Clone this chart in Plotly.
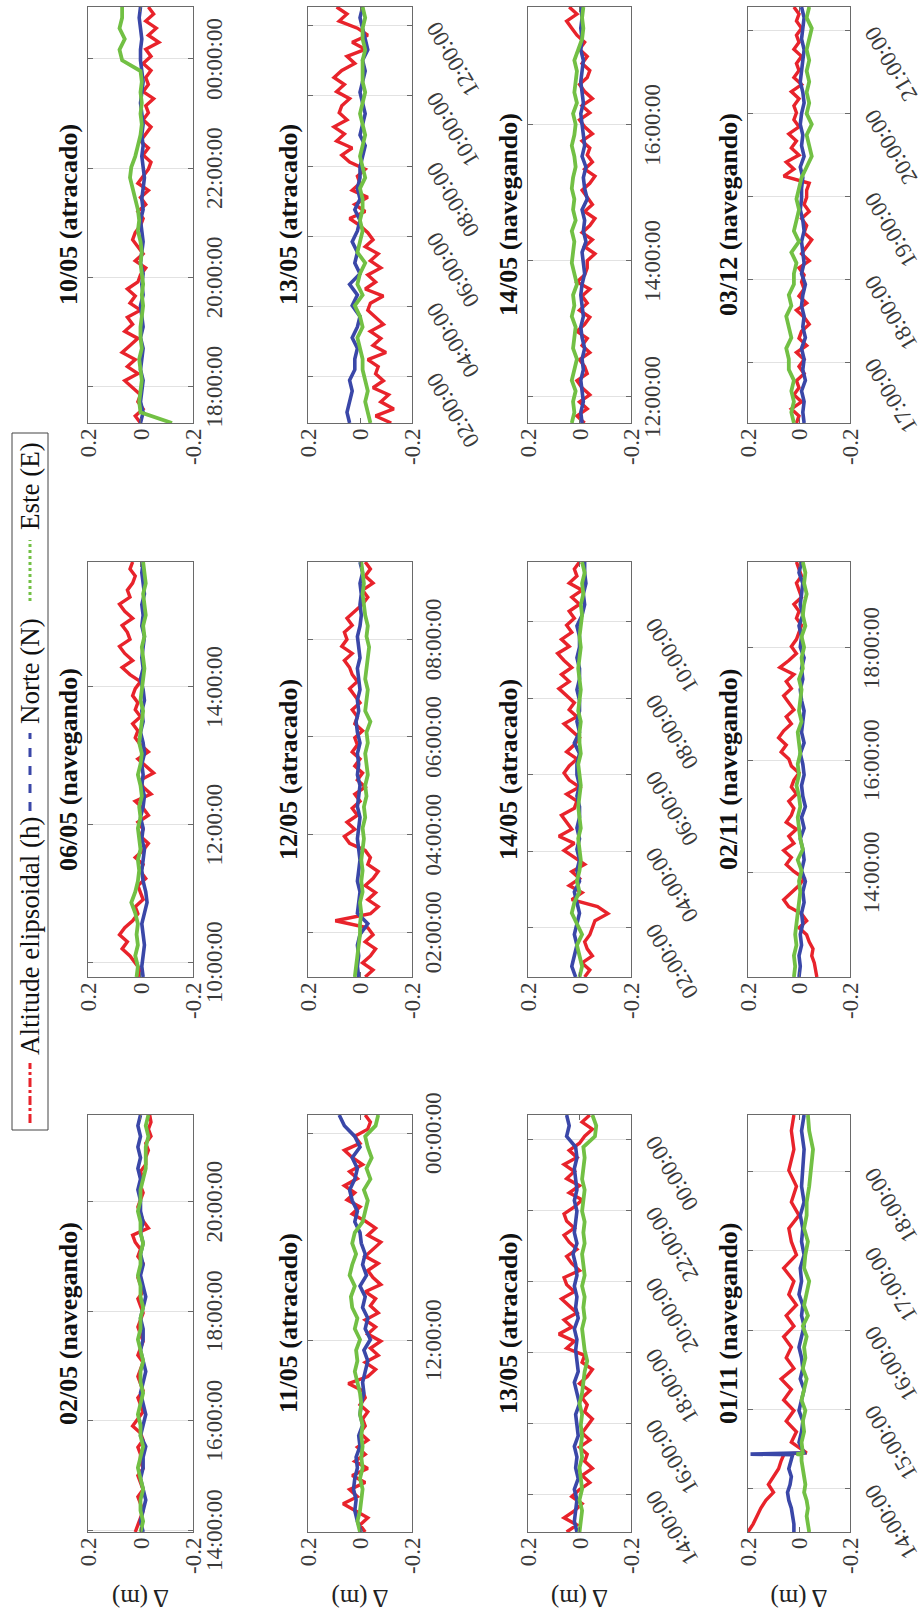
import pandas as pd
import plotly.graph_objects as go

# ---------------- data (values in metres) ----------------
titles = ["02/05 (navegando)", "06/05 (navegando)", "10/05 (atracado)",
          "11/05 (atracado)", "12/05 (atracado)", "13/05 (atracado)",
          "13/05 (atracado)", "14/05 (atracado)", "14/05 (navegando)",
          "01/11 (navegando)", "02/11 (navegando)", "03/12 (navegando)"]

starts = ["2016-05-02 13:58", "2016-05-06 09:47", "2016-05-10 17:20",
          "2016-05-11 00:52", "2016-05-12 01:05", "2016-05-13 00:41",
          "2016-05-13 12:56", "2016-05-14 00:43", "2016-05-14 11:37",
          "2016-11-01 13:27", "2016-11-02 12:08", "2016-12-03 16:16"]
ends = ["2016-05-02 21:35", "2016-05-06 15:49", "2016-05-11 00:57",
        "2016-05-12 01:03", "2016-05-12 09:35", "2016-05-13 12:32",
        "2016-05-14 00:42", "2016-05-14 11:34", "2016-05-14 17:44",
        "2016-11-01 18:43", "2016-11-02 19:32", "2016-12-03 21:17"]

tick_times = [
    ["2016-05-02 14:00", "2016-05-02 16:00", "2016-05-02 18:00", "2016-05-02 20:00"],
    ["2016-05-06 10:00", "2016-05-06 12:00", "2016-05-06 14:00"],
    ["2016-05-10 18:00", "2016-05-10 20:00", "2016-05-10 22:00", "2016-05-11 00:00"],
    ["2016-05-11 12:00", "2016-05-12 00:00"],
    ["2016-05-12 02:00", "2016-05-12 04:00", "2016-05-12 06:00", "2016-05-12 08:00"],
    ["2016-05-13 02:00", "2016-05-13 04:00", "2016-05-13 06:00", "2016-05-13 08:00",
     "2016-05-13 10:00", "2016-05-13 12:00"],
    ["2016-05-13 14:00", "2016-05-13 16:00", "2016-05-13 18:00", "2016-05-13 20:00",
     "2016-05-13 22:00", "2016-05-14 00:00"],
    ["2016-05-14 02:00", "2016-05-14 04:00", "2016-05-14 06:00", "2016-05-14 08:00",
     "2016-05-14 10:00"],
    ["2016-05-14 12:00", "2016-05-14 14:00", "2016-05-14 16:00"],
    ["2016-11-01 14:00", "2016-11-01 15:00", "2016-11-01 16:00", "2016-11-01 17:00",
     "2016-11-01 18:00"],
    ["2016-11-02 14:00", "2016-11-02 16:00", "2016-11-02 18:00"],
    ["2016-12-03 17:00", "2016-12-03 18:00", "2016-12-03 19:00", "2016-12-03 20:00",
     "2016-12-03 21:00"],
]
slanted = [False, False, False, False, False, True, True, True, False, True, False, True]

value_ticks = [0.2, 0, -0.2]
value_tick_text = ["0.2", "0", "-0.2"]

# 02/05
h_0205 = [.02,.01,.0,-.01,.0,.01,-.01,.0,.01,-.01,.0,.0,.01,-.01,.0,.03,.01,-.01,.0,.01,-.01,.0,.01,.0,-.01,.01,.0,-.01,.0,.01,.0,-.01,.0,.01,-.01,.0,.01,.0,-.01,.01,.0,.02,.03,-.03,-.01,.0,.01,.0,-.01,.0,-.01,.0,-.02,-.02,-.03,-.02,-.04,-.03,-.04,-.035]
n_0205 = [-.01,.0,-.01,-.02,-.01,.0,-.01,-.01,-.02,.0,-.01,-.02,-.01,.0,-.01,-.02,-.01,.0,-.01,-.01,.0,-.01,-.02,-.01,.0,-.01,.0,-.01,.0,-.01,.0,.0,.01,.0,.01,.0,.01,.0,.01,.0]
e_0205 = [.0,-.01,.0,.0,-.01,.0,.01,.0,-.01,.0,.0,.01,.0,-.01,.0,.0,-.01,.0,.01,.0,.0,-.01,.0,.0,.01,.0,.0,-.01,.0,.0,.01,.0,.0,-.01,-.02,-.02,-.02,-.03,-.02,-.03]
# 06/05
h_0605 = [.01,.0,.02,.04,.07,.05,.08,.06,.03,.01,.02,-.01,.0,.01,-.02,.0,-.01,.02,-.01,-.03,.0,-.01,.01,-.03,-.01,.02,-.04,-.01,.0,-.05,-.02,.01,-.03,.0,.02,.01,.03,.0,.02,.01,.03,.02,.0,.04,.07,.03,.06,.08,.04,.05,.07,.03,.06,.08,.04,.05,.03,.02,.04,.03]
n_0605 = [-.01,-.005,-.01,-.015,-.01,-.005,-.015,-.025,-.02,-.01,-.005,-.01,-.015,-.005,-.01,.0,-.01,-.015,-.005,-.01,-.005,-.015,-.01,.0,-.01,-.005,-.015,-.01,.0,-.01,-.005,-.01,-.015,-.005,-.01,-.005,-.015,-.01,-.005,-.01]
e_0605 = [.015,.01,.02,.01,.015,.01,.02,.035,.02,.01,.005,.01,.0,.005,.01,.0,.005,-.005,.0,.01,.0,-.005,.005,.0,-.005,-.01,.0,-.005,-.01,-.015,-.01,-.005,-.015,-.01,-.02,-.015,-.01,-.02,-.015,-.01]
# 10/05
h_1005 = [.0,.02,-.01,.01,.0,.03,.06,.01,.05,.02,.07,.04,.01,.06,.03,.05,.0,.04,.02,.05,.01,.0,-.02,.02,-.01,.01,.03,.02,.0,-.01,.01,-.02,.0,-.03,.01,-.01,-.03,-.04,-.01,-.03,.0,-.02,-.04,-.01,-.03,-.02,-.05,-.01,-.03,-.02,-.04,-.01,-.04,-.02,-.07,-.03,-.06,-.02,-.05,-.03]
n_1005 = [.0,-.01,.0,-.005,-.01,.0,-.005,-.01,.0,-.01,-.005,.0,-.01,-.005,-.01,.0,-.005,-.01,-.005,.0,-.01,-.005,-.01,-.015,-.01,-.005,-.01,-.005,-.01,-.005,.0,-.005,-.01,-.005,.0,.0,-.005,.0,.005,.0]
e_1005 = [-.12,.0,.005,.0,-.005,.0,.005,-.005,.0,.0,-.005,-.01,-.005,-.01,-.005,.0,-.005,.0,.01,.005,.01,.02,.03,.04,.035,.02,.01,.0,-.005,.0,-.005,.0,-.005,.0,.07,.08,.06,.08,.07,.07]
# 11/05
h_1105 = [-.02,.0,-.03,.02,.065,.01,.04,-.02,.03,-.03,.02,-.02,.01,-.03,.0,-.02,-.01,-.03,.0,-.02,-.01,.045,-.03,-.06,-.02,-.07,-.04,-.08,-.03,-.06,-.02,-.07,-.04,-.06,-.02,-.08,-.05,-.03,-.07,-.02,-.05,-.08,-.03,-.06,-.02,.03,.0,.05,.02,.06,.01,.04,-.01,.03,.06,.0,.02,-.03,-.04,-.02]
n_1105 = [-.005,.01,.02,.015,.025,.02,.01,.015,.0,.005,-.01,.0,-.005,-.015,-.01,-.02,-.03,-.015,-.04,-.02,-.03,-.01,-.02,.0,-.025,-.01,-.02,-.005,.0,.02,.01,.03,.04,.02,.01,.03,.0,.02,.06,.08]
e_1105 = [.0,.01,.0,-.005,-.01,.0,-.01,-.005,-.01,-.005,-.01,.0,-.005,.0,.01,.02,.01,.015,.0,.02,.01,.03,.035,.02,.04,.03,.015,.03,.02,-.01,-.02,-.03,-.015,-.04,-.025,-.045,-.03,-.02,-.06,-.07]
# 12/05
h_1205 = [-.02,-.05,-.01,-.04,-.06,-.02,-.05,-.03,.095,-.04,-.07,-.03,-.06,-.02,-.05,-.07,-.03,-.04,-.02,.04,.06,.02,.05,.01,.03,.0,.02,-.02,.01,-.01,.02,.0,.03,.01,.02,-.01,.02,.01,.03,.0,.02,.04,.01,.03,.04,.06,.03,.07,.05,.06,.03,.05,.02,-.01,-.03,-.01,-.05,-.02,-.04,-.02]
n_1205 = [.005,.01,.005,.01,.0,-.03,.01,.005,.0,.01,.005,.0,.005,.01,.005,.0,.01,.005,.0,.01,.005,.01,.0,.01,.015,.005,.01,.0,.005,.01,.0,.005,.01,.0,-.005,.0,-.005,.0,-.01,.0]
e_1205 = [.02,.015,.01,.005,.0,.0,-.005,.0,-.01,-.005,-.01,-.005,-.01,-.015,-.01,-.02,-.015,-.025,-.02,-.03,-.025,-.02,-.03,-.025,-.04,-.02,-.025,-.03,-.02,-.025,-.03,-.035,-.025,-.03,-.02,-.015,-.01,-.015,-.01,-.005]
# 13/05 (first half)
h_1305a = [-.12,-.06,-.13,-.08,-.11,-.05,-.09,-.06,-.07,-.03,-.1,-.05,-.08,-.04,-.09,-.06,-.03,-.04,-.09,-.02,-.06,-.03,-.08,-.04,-.07,-.02,-.05,-.03,.0,.04,-.02,.02,-.03,.03,.0,.01,-.02,.04,.07,.03,.09,.06,.1,.05,.08,.07,.04,.09,.06,.1,.07,.02,.05,-.02,.03,-.03,.01,.08,.05,.09]
n_1305a = [.04,.05,.04,.03,.04,.02,.02,.01,.03,.01,.0,.03,.01,.04,.0,.02,.01,.03,.01,.0,.02,.0,.01,.0,.0,-.01,-.02,.0,-.01,-.02,-.01,.0,-.01,-.02,-.01,-.03,-.02,-.01,.0,-.01]
e_1305a = [-.04,-.03,-.02,-.03,-.02,-.01,-.01,.0,.01,-.01,.0,.02,-.01,.01,.0,-.02,.01,.0,-.01,.0,-.01,-.01,.0,-.02,-.01,.0,-.01,-.02,-.01,.0,-.01,-.02,-.01,-.01,-.01,-.02,-.01,-.01,-.02,-.01]
# 13/05 (second half)
h_1305b = [.05,.01,.06,.02,-.01,.03,.0,-.04,-.01,-.05,-.02,-.03,.0,-.04,-.01,-.03,-.05,-.02,-.03,-.01,-.04,.0,-.03,-.05,-.01,-.02,.05,.02,.08,.03,.06,.01,.04,.07,.02,.05,.06,.0,.03,.05,.01,.04,.06,.02,.05,.06,.02,-.01,.04,.0,.05,.02,.06,.01,.04,.0,-.02,-.05,-.01,-.04]
n_1305b = [.01,.02,.015,.01,.02,.005,.015,.01,.02,.005,.01,.015,.0,.01,.02,.005,.01,.015,.01,.02,.005,.015,.01,.02,.01,.015,.025,.01,.02,.015,.01,.02,.01,.015,.02,.01,.015,.05,.04,.05]
e_1305b = [.0,-.005,-.01,.0,-.01,-.005,.0,-.01,-.005,-.01,-.005,-.01,.0,-.01,-.015,-.02,-.03,-.02,-.015,-.01,-.02,-.015,-.02,-.01,-.02,-.015,-.01,-.02,-.015,-.02,-.01,-.015,-.02,-.01,-.015,-.02,-.015,-.06,-.065,-.05]
# 14/05 (atracado)
h_1405a = [-.02,-.04,-.01,-.05,-.03,-.02,-.04,-.05,-.06,-.11,-.07,.03,-.01,.04,.0,.03,-.02,.02,.06,.02,.08,.03,.05,.07,.02,.01,.05,.0,.04,.06,.04,.01,.05,.02,.0,.03,.06,.01,.04,.02,.05,.08,.04,.07,.03,.06,.085,.04,.07,.03,.05,.02,.04,.0,.03,-.01,.04,.01,.02,.0]
n_1405a = [.015,.03,.02,.01,.02,.01,.0,.01,.02,.0,.01,.0,.01,.0,.01,.0,.0,.01,.0,.01,.01,.0,.02,.0,.01,.0,.0,.01,.0,.0,.01,.0,.0,.01,-.01,-.02,-.015,-.025,-.02,-.02]
e_1405a = [.0,-.01,.0,.01,-.01,.01,.03,.02,.0,.01,.0,-.005,.0,.005,-.005,.0,.005,.0,-.005,.0,.005,-.005,.0,.0,-.005,.005,.0,-.005,.0,.005,.0,-.005,.0,-.005,-.01,-.005,-.015,-.01,-.02,-.01]
# 14/05 (navegando)
h_1405b = [-.02,.01,-.03,.0,-.04,-.01,.01,-.03,-.02,.0,-.04,-.01,-.03,.01,-.02,-.04,.0,-.03,-.01,-.04,.01,-.02,-.03,-.03,-.06,-.02,-.05,-.01,-.04,-.06,-.02,-.05,-.03,-.01,-.04,-.06,-.02,-.05,-.03,-.04,-.01,-.05,-.02,.0,-.04,-.01,-.05,-.02,.0,-.03,-.04,-.01,-.03,.0,-.02,.01,.03,.05,.01,.04]
n_1405b = [-.01,-.005,-.015,-.01,-.005,-.015,-.01,-.02,-.01,-.005,-.015,-.01,-.005,-.01,-.02,-.015,-.01,-.025,-.015,-.02,-.01,-.03,-.02,-.015,-.025,-.01,-.02,-.015,-.01,-.005,-.015,-.01,-.005,-.01,-.015,-.005,-.01,-.005,-.01,-.005]
e_1405b = [.03,.02,.025,.015,.03,.02,.01,.025,.02,.015,.03,.02,.025,.01,.02,.03,.025,.02,.03,.015,.025,.02,.03,.025,.015,.02,.03,.02,.015,.025,.01,.02,.015,.01,.02,.005,-.01,-.015,-.01,-.015]
# 01/11 (sampled at the minutes listed in t_0111, counted from the start)
t_0111 = [0,6,12,18,24,30,36,42,48,54,58.5,59,59.5,60,68,76,84,92,100,108,116,124,132,140,148,156,164,172,180,190,200,210,220,230,240,250,262,274,290,304,316]
h_0111 = [.2,.18,.165,.15,.13,.1,.12,.1,.08,.07,.06,.07,.0,-.03,.03,.01,.05,.02,.06,.03,.07,.02,.05,.03,.06,.02,.05,.01,.04,.02,.06,.01,.03,.04,.0,.03,.01,.04,.02,.03,.02]
n_0111 = [.02,.02,.025,.03,.04,.045,.035,.03,.04,.03,.025,.19,.01,-.02,.0,-.01,-.015,.0,-.01,-.02,-.005,-.015,-.01,.0,-.01,-.02,-.01,-.015,.0,-.01,-.005,-.02,-.01,-.015,-.005,-.02,-.01,-.015,-.02,-.01,-.02]
e_0111 = [-.04,-.035,-.03,-.035,-.03,-.02,-.025,-.02,-.015,-.01,-.01,.01,-.01,-.015,-.01,-.02,-.015,-.025,-.01,-.02,-.03,-.015,-.025,-.02,-.03,-.015,-.035,-.02,-.03,-.04,-.02,-.025,-.035,-.02,-.03,-.03,-.04,-.045,-.055,-.04,-.035]
# 02/11
h_0211 = [-.07,-.065,-.06,-.05,-.055,-.04,-.03,.0,-.03,-.01,.04,.06,.03,.0,-.02,.02,.05,.03,.06,.02,.04,.01,.05,.03,.02,.04,.01,.03,.02,.0,.03,.04,.07,.05,.08,.06,.03,.05,.02,.04,.06,.03,.05,.02,.075,.04,.01,.03,.01,.0,-.01,.01,.0,.02,-.01,.0,.01,-.01,.0,.01]
n_0211 = [.0,-.005,.0,-.01,-.005,-.015,-.01,-.02,-.015,-.025,-.01,-.02,-.015,-.005,-.02,-.01,-.025,-.015,-.01,-.02,-.015,-.005,-.02,-.01,-.015,-.02,-.01,-.005,-.015,-.01,-.02,-.005,-.01,.0,-.015,-.005,-.01,-.015,.0,-.01]
e_0211 = [.02,.015,.02,.01,.015,.01,.005,.0,-.005,.0,-.01,.005,-.015,-.005,.0,.005,-.005,.0,.01,.0,.005,-.005,.0,.005,-.01,.0,-.005,-.01,.0,-.015,-.01,-.02,-.01,-.025,-.015,-.02,-.03,-.02,-.025,-.015]
# 03/12
h_0312 = [.01,.0,.03,-.01,.02,.0,.01,-.02,.0,-.02,.01,-.03,.0,-.01,-.04,-.02,.01,-.03,.0,-.02,-.01,-.02,.0,-.04,-.01,-.03,-.05,-.02,-.03,-.01,-.04,-.02,-.03,-.03,-.04,.06,.02,.05,.0,.03,.01,.04,.0,.02,.01,.02,.0,.03,-.01,.02,.0,.01,-.01,.02,.0,.01,-.01,.01,.0,.02]
n_0312 = [-.02,-.015,-.02,-.01,-.025,-.015,-.02,-.01,-.025,-.015,-.02,-.01,-.015,-.025,-.01,-.02,-.015,-.01,-.02,-.015,-.005,-.01,-.01,-.015,-.005,-.02,-.01,-.015,-.005,-.01,-.02,-.015,-.005,-.01,-.015,-.02,-.01,-.015,-.02,-.01]
e_0312 = [.02,.03,.02,.03,.02,.04,.04,.05,.03,.04,.05,.03,.04,.02,.02,.01,.03,.0,.02,.01,.0,.01,.0,-.01,-.03,-.05,-.04,-.03,-.05,-.03,-.04,-.03,-.04,-.03,-.04,-.03,-.04,-.05,-.03,-.04]

h_series = [h_0205, h_0605, h_1005, h_1105, h_1205, h_1305a, h_1305b, h_1405a, h_1405b, h_0111, h_0211, h_0312]
n_series = [n_0205, n_0605, n_1005, n_1105, n_1205, n_1305a, n_1305b, n_1405a, n_1405b, n_0111, n_0211, n_0312]
e_series = [e_0205, e_0605, e_1005, e_1105, e_1205, e_1305a, e_1305b, e_1405a, e_1405b, e_0111, e_0211, e_0312]
custom_minutes = {9: t_0111}

series_names = ["Altitude elipsoidal (h)", "Norte (N)", "Este (E)"]

# ---------------- styling / layout ----------------
W, H = 1623, 924
FONT = "Liberation Serif, Times New Roman, serif"
colors = ["#e8232b", "#3a47a8", "#72c044"]
dashes = ["dashdot", "dash", "dot"]
widths = [3.4, 3.6, 3.8]
col_px = [(91, 508), (646, 1061), (1200, 1616)]
row_px = [(88, 193), (308, 412), (528, 631), (748, 850)]


def times_for(p, n):
    if p in custom_minutes:
        return pd.Timestamp(starts[p]) + pd.to_timedelta(custom_minutes[p], unit="min")
    return pd.date_range(starts[p], ends[p], periods=n)


fig = go.Figure()
layout = dict(
    width=W, height=H, margin=dict(l=0, r=0, t=0, b=0),
    paper_bgcolor="white", plot_bgcolor="white",
    font=dict(family=FONT, size=23, color="#333333"),
    showlegend=False, annotations=[], shapes=[],
)

for p in range(12):
    r, c = divmod(p, 3)
    k = p + 1
    sx = "" if k == 1 else str(k)
    x0, x1 = col_px[c]
    y0, y1 = row_px[r]
    for vals, col, nm, wd in zip((h_series[p], n_series[p], e_series[p]), colors, series_names, widths):
        t = times_for(p, len(vals))
        fig.add_trace(go.Scatter(x=t, y=vals, mode="lines", name=nm, showlegend=False,
                                 line=dict(color=col, width=wd),
                                 xaxis="x" + sx, yaxis="y" + sx, hoverinfo="skip"))
    ticktext = [pd.Timestamp(v).strftime("%H:%M:%S") for v in tick_times[p]]
    layout["xaxis" + sx] = dict(
        domain=[x0 / W, x1 / W], anchor="y" + sx, type="date",
        range=[starts[p], ends[p]], tickmode="array", tickvals=tick_times[p], ticktext=ticktext,
        tickangle=-30 if slanted[p] else 0,
        showgrid=True, gridcolor="#e2e2e2", gridwidth=1,
        showline=True, linecolor="#6a6a6a", linewidth=1, mirror="ticks",
        ticks="inside", ticklen=5, tickcolor="#6a6a6a",
        tickfont=dict(family=FONT, size=23, color="#3a3a3a"),
        zeroline=False, automargin=False, fixedrange=True,
    )
    layout["yaxis" + sx] = dict(
        domain=[1 - y1 / H, 1 - y0 / H], anchor="x" + sx,
        range=[-0.2, 0.2], tickmode="array", tickvals=value_ticks, ticktext=value_tick_text,
        showgrid=False, showline=True, linecolor="#6a6a6a", linewidth=1, mirror="ticks",
        ticks="inside", ticklen=5, tickcolor="#6a6a6a",
        tickfont=dict(family=FONT, size=23, color="#3a3a3a"),
        zeroline=False, automargin=False, fixedrange=True,
        title=dict(text="\u0394 (m)" if c == 0 else "", font=dict(family=FONT, size=25, color="#222222"),
                   standoff=8),
    )
    layout["annotations"].append(dict(
        text="<b>" + titles[p] + "</b>", xref="paper", yref="paper",
        x=(x0 + x1) / 2 / W, y=1 - (y0 - 3) / H, xanchor="center", yanchor="bottom",
        showarrow=False, font=dict(family=FONT, size=26, color="#111111")))

# legend box drawn along the top edge, as in the publication
leg_box = (493, 12, 1190, 48)
leg_items = [(500, 560, 566), (812, 890, 897), (1022, 1083, 1091)]
layout["shapes"].append(dict(type="rect", xref="paper", yref="paper",
                             x0=leg_box[0] / W, x1=leg_box[2] / W,
                             y0=1 - leg_box[3] / H, y1=1 - leg_box[1] / H,
                             line=dict(color="#444444", width=1), fillcolor="white"))
ly = 1 - 30 / H
for (a, b, tx), nm, col, ds in zip(leg_items, series_names, colors, dashes):
    layout["shapes"].append(dict(type="line", xref="paper", yref="paper",
                                 x0=a / W, x1=b / W, y0=ly, y1=ly,
                                 line=dict(color=col, width=3, dash=ds)))
    layout["annotations"].append(dict(text=nm, xref="paper", yref="paper", x=tx / W, y=ly,
                                      xanchor="left", yanchor="middle", showarrow=False,
                                      font=dict(family=FONT, size=27, color="#111111")))

fig.update_layout(**layout)

# the published figure is printed turned a quarter-turn counter-clockwise
post = """
var gd = document.getElementById('{plot_id}');
document.documentElement.style.overflow = 'hidden';
document.body.style.margin = '0';
document.body.style.overflow = 'hidden';
gd.style.position = 'absolute';
gd.style.left = '0px';
gd.style.top = '0px';
gd.style.transformOrigin = '0 0';
gd.style.transform = 'translate(0px, 1623px) rotate(-90deg)';
"""
fig.write_html("out.html", config={"displayModeBar": False}, post_script=post)
